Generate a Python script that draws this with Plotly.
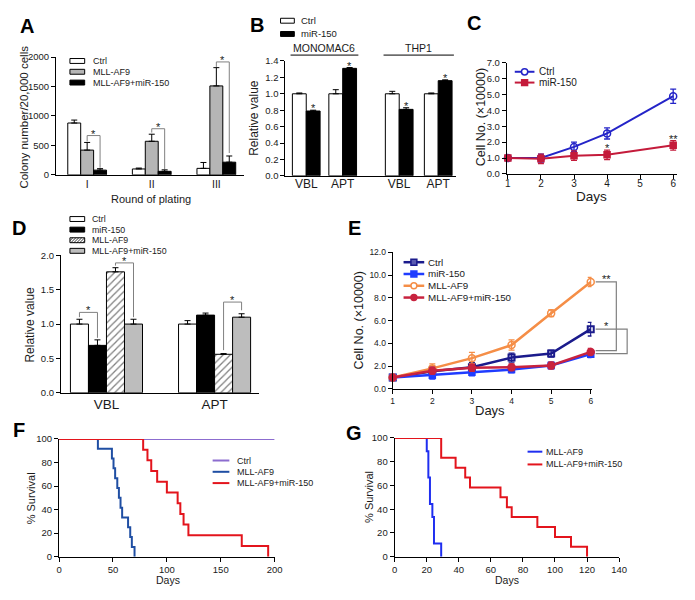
import plotly.graph_objects as go

W, H = 695, 600
FONT = "Liberation Sans, Arial, Helvetica, sans-serif"
INK = "#1a1a1a"
BRK = "#808080"

# ---------------- data ----------------
# A: colony replating
a_rounds = ["I", "II", "III"]
a_ctrl = [880, 100, 110]
a_ctrl_err = [50, 15, 100]
a_mll = [420, 570, 1510]
a_mll_err = [130, 120, 310]
a_combo = [80, 60, 215]
a_combo_err = [25, 25, 105]
# significance brackets A: (round index, top, left end, right end)
a_sig = [(0, 667, 567, 120), (1, 783, 717, 100), (2, 1917, 1833, 370)]

# B: MONOMAC6 / THP1
b_ticklabels = ["VBL", "APT", "VBL", "APT"]
b_cells = ["MONOMAC6", "THP1"]
b_ctrl = [1.00, 1.00, 1.00, 1.00]
b_ctrl_err = [0.01, 0.05, 0.03, 0.01]
b_mir = [0.79, 1.31, 0.81, 1.16]
b_mir_err = [0.01, 0.01, 0.02, 0.01]

# C: growth curve
c_days = [1, 2, 3, 4, 6]
c_ctrl = [1.0, 1.0, 1.7, 2.55, 4.9]
c_ctrl_err = [0.05, 0.25, 0.3, 0.35, 0.45]
c_mir = [1.0, 0.95, 1.15, 1.2, 1.8]
c_mir_err = [0.05, 0.3, 0.3, 0.3, 0.3]
c_stars = [(4, "*"), (6, "**")]

# D: VBL / APT
d_assays = ["VBL", "APT"]
d_ctrl = [1.00, 1.00]
d_ctrl_err = [0.07, 0.05]
d_mir = [0.69, 1.13]
d_mir_err = [0.08, 0.03]
d_mll = [1.76, 0.56]
d_mll_err = [0.06, 0.01]
d_combo = [1.00, 1.10]
d_combo_err = [0.07, 0.05]
# (group, bar i, bar j, top, end i, end j)
d_sig = [(0, 0, 1, 1.17, 1.10, 0.80), (0, 2, 3, 1.89, 1.85, 1.10), (1, 2, 3, 1.32, 0.62, 1.20)]

# E: growth curve 4 groups
e_days = [1, 2, 3, 4, 5, 6]
e_ctrl = [1.0, 1.55, 1.9, 2.75, 3.1, 5.25]
e_ctrl_err = [0.05, 0.35, 0.4, 0.4, 0.3, 0.6]
e_mir = [1.0, 1.2, 1.45, 1.7, 2.05, 3.05]
e_mir_err = [0.05, 0.35, 0.3, 0.3, 0.3, 0.3]
e_mll = [1.0, 1.8, 2.7, 3.85, 6.65, 9.4]
e_mll_err = [0.05, 0.4, 0.5, 0.45, 0.3, 0.4]
e_combo = [1.0, 1.6, 1.85, 1.9, 2.05, 3.25]
e_combo_err = [0.05, 0.3, 0.3, 0.3, 0.3, 0.3]
# (label, top value, bottom value, bracket reach in px)
e_sig = [("**", 9.4, 3.37, 26), ("*", 5.25, 3.1, 37)]

# F / G: survival (days of death)
f_ctrl_followup = 200
f_mll_deaths = [36, 49, 50.5, 52, 54, 55.5, 57, 58.5, 64, 66, 67.5, 70]
f_combo_deaths = [78, 82, 85.5, 91, 100, 110, 112.5, 115.5, 120, 169.5, 194]
g_mll_deaths = [20, 21, 21, 22, 22, 23.5, 24.5, 24.5, 29]
g_combo_deaths = [29, 29, 38, 44, 47, 66, 70, 73, 89, 100, 110, 120]

# ---------------- geometry (pixels) ----------------
GEO = {
    "A": ((54, 245), (52, 172), (-0.48, 2.43), (0, 2000)),
    "B": ((287, 460), (56, 173), (-0.57, 4.1), (0, 1.4)),
    "C": ((512, 685), (58, 171), (0.97, 6.12), (0, 7)),
    "D": ((59, 260), (254, 394), (-0.42, 1.41), (0, 2)),
    "E": ((396, 598), (251, 390), (1, 6.02), (0, 12)),
    "F": ((57, 276), (441, 561), (0, 200), (0, 100)),
    "G": ((398, 626), (440, 561), (0, 140), (0, 100)),
}
IDX = {k: i + 1 for i, k in enumerate("ABCDEFG")}


def ax(k):
    i = IDX[k]
    return ("x" if i == 1 else f"x{i}"), ("y" if i == 1 else f"y{i}")


def xpx(k, v):
    (x0, x1), _, (r0, r1), _ = GEO[k]
    return x0 + (v - r0) / (r1 - r0) * (x1 - x0)


def ypx(k, v):
    _, (yt, yb), _, (r0, r1) = GEO[k]
    return yb - (v - r0) / (r1 - r0) * (yb - yt)


def PX(p):
    return p / W


def PY(p):
    return 1 - p / H


fig = go.Figure()
shapes = []
annos = []


def text(x, y, s, size, color=INK, angle=0, xanchor="center", bold=False):
    annos.append(dict(x=PX(x), y=PY(y), xref="paper", yref="paper", text=(f"<b>{s}</b>" if bold else s),
                      showarrow=False, textangle=angle, xanchor=xanchor, yanchor="middle",
                      font=dict(family=FONT, size=size, color=color)))


def seg_path(points, color=BRK, width=1):
    d = "M " + " L ".join(f"{PX(x):.5f},{PY(y):.5f}" for x, y in points)
    shapes.append(dict(type="path", path=d, xref="paper", yref="paper", line=dict(color=color, width=width)))


def star(x, y, s, size=11):
    text(x, y + 3, s, size)


def bar(k, xs, ys, err, off, w, fill, pattern=None):
    xa, ya = ax(k)
    marker = dict(color=fill, line=dict(color="black", width=1))
    if pattern:
        marker["pattern"] = pattern
    fig.add_trace(go.Bar(x=xs, y=ys, width=w, offset=off, marker=marker, xaxis=xa, yaxis=ya, showlegend=False,
                         error_y=dict(type="data", array=err, arrayminus=[0] * len(err), symmetric=False,
                                      color="black", thickness=1, width=3)))


def line(k, xs, ys, err, color, symbol, msize, lw=2, mline=1.5):
    xa, ya = ax(k)
    mk = dict(symbol=symbol, size=msize, color=color, line=dict(color=color, width=mline))
    fig.add_trace(go.Scatter(x=xs, y=ys, mode="lines+markers", line=dict(color=color, width=lw), marker=mk,
                             xaxis=xa, yaxis=ya, showlegend=False, cliponaxis=False,
                             error_y=dict(type="data", array=err, color=color, thickness=1.3, width=3)))


def km(deaths):
    n = len(deaths)
    xs, ys = [0], [100.0]
    alive = n
    for t in sorted(deaths):
        alive -= 1
        xs.append(t)
        ys.append(100.0 * alive / n)
    return xs, ys


def surv(k, xs, ys, color, lw=2):
    xa, ya = ax(k)
    fig.add_trace(go.Scatter(x=xs, y=ys, mode="lines", line=dict(color=color, width=lw, shape="hv"),
                             xaxis=xa, yaxis=ya, showlegend=False, cliponaxis=False))


# legend helpers
def leg_box(x0, x1, yc, fill, h=5, hatch=False):
    shapes.append(dict(type="rect", xref="paper", yref="paper", x0=PX(x0), x1=PX(x1), y0=PY(yc + h / 2),
                       y1=PY(yc - h / 2), fillcolor=fill, line=dict(color="black", width=1)))
    if hatch:
        pts = []
        xx = x0 - h
        while xx < x1:
            a = max(xx, x0)
            b = min(xx + h, x1)
            pts.append(f"M {PX(a):.5f},{PY(yc + h / 2 - (a - xx)):.5f} L {PX(b):.5f},{PY(yc + h / 2 - (b - xx)):.5f}")
            xx += 3
        shapes.append(dict(type="path", path=" ".join(pts), xref="paper", yref="paper",
                           line=dict(color="black", width=0.8)))


def leg_line(x0, x1, yc, color, lw=2, marker=None, ms=3, mfill=None):
    shapes.append(dict(type="line", xref="paper", yref="paper", x0=PX(x0), x1=PX(x1), y0=PY(yc), y1=PY(yc),
                       line=dict(color=color, width=lw)))
    if marker:
        cx = (x0 + x1) / 2
        shapes.append(dict(type=marker, xref="paper", yref="paper", x0=PX(cx - ms), x1=PX(cx + ms),
                           y0=PY(yc + ms), y1=PY(yc - ms), fillcolor=mfill or color,
                           line=dict(color=color, width=1.5)))


# ---------------- Panel A ----------------
A_W = 0.2
a_x = list(range(len(a_rounds)))
bar("A", a_x, a_ctrl, a_ctrl_err, -0.3, A_W, "white")
bar("A", a_x, a_mll, a_mll_err, -0.1, A_W, "#b5b5b5")
bar("A", a_x, a_combo, a_combo_err, 0.1, A_W, "black")
for g, top, le, re in a_sig:
    xl, xr = xpx("A", g), xpx("A", g + 0.2)
    seg_path([(xl, ypx("A", le)), (xl, ypx("A", top)), (xr, ypx("A", top)), (xr, ypx("A", re))])
    star((xl + xr) / 2, ypx("A", top) - 5, "*")
for i, (lab, fill) in enumerate([("Ctrl", "white"), ("MLL-AF9", "#b5b5b5"), ("MLL-AF9+miR-150", "black")]):
    yc = 56 + i * 11
    leg_box(68, 83, yc, fill)
    text(89, yc, lab, 9, xanchor="left")
text(21, 113, "Colony number/20,000 cells", 11.5, angle=-90)
text(150, 197, "Round of plating", 11)

# ---------------- Panel B ----------------
B_W = 0.38
b_pos = [0, 1, 2.55, 3.62]
bar("B", b_pos, b_ctrl, b_ctrl_err, -B_W, B_W, "white")
bar("B", b_pos, b_mir, b_mir_err, 0, B_W, "black")
for i in range(len(b_pos)):
    star(xpx("B", b_pos[i] + B_W / 2), ypx("B", b_mir[i] + b_mir_err[i]) - 5, "*")
for j, name in enumerate(b_cells):
    xa_ = xpx("B", b_pos[2 * j] - B_W - 0.05)
    xb_ = xpx("B", b_pos[2 * j + 1] + B_W + 0.05)
    shapes.append(dict(type="line", xref="paper", yref="paper", x0=PX(xa_), x1=PX(xb_), y0=PY(50), y1=PY(50),
                       line=dict(color="black", width=1)))
    text((xa_ + xb_) / 2, 42.5, name, 10.5)
leg_box(282, 296, 15, "white")
leg_box(282, 296, 28.5, "black")
text(301, 15, "Ctrl", 9.5, xanchor="left")
text(301, 28.5, "miR-150", 9.5, xanchor="left")
text(255, 114, "Relative value", 12, angle=-90)

# ---------------- Panel C ----------------
C_BLUE, C_RED = "#2424c8", "#c41b3b"
line("C", c_days, c_ctrl, c_ctrl_err, C_BLUE, "circle-open", 7)
line("C", c_days, c_mir, c_mir_err, C_RED, "square", 6)
for d, s in c_stars:
    i = c_days.index(d)
    star(xpx("C", d), ypx("C", c_mir[i] + c_mir_err[i]) - 5, s)
leg_line(520, 540, 67, C_BLUE, marker="circle", ms=3.2, mfill="white")
leg_line(520, 540, 78, C_RED, marker="rect", ms=3)
text(543, 67, "Ctrl", 10, xanchor="left")
text(543, 78, "miR-150", 10, xanchor="left")
text(486, 113, "Cell No. (×10000)", 12.5, angle=-90)
text(598, 194, "Days", 13.5)

# ---------------- Panel D ----------------
D_W = 0.1667
D_OFF = [-0.3333, -0.1667, 0.0, 0.1667]
d_x = list(range(len(d_assays)))
D_GRAY = "#bdbdbd"
bar("D", d_x, d_ctrl, d_ctrl_err, D_OFF[0], D_W, "white")
bar("D", d_x, d_mir, d_mir_err, D_OFF[1], D_W, "black")
bar("D", d_x, d_mll, d_mll_err, D_OFF[2], D_W, "white",
    pattern=dict(shape="/", fgcolor="black", bgcolor="white", size=5, solidity=0.25))
bar("D", d_x, d_combo, d_combo_err, D_OFF[3], D_W, D_GRAY)
for g, bi, bj, top, ei, ej in d_sig:
    xl = xpx("D", g + D_OFF[bi] + D_W / 2)
    xr = xpx("D", g + D_OFF[bj] + D_W / 2)
    seg_path([(xl, ypx("D", ei)), (xl, ypx("D", top)), (xr, ypx("D", top)), (xr, ypx("D", ej))])
    star((xl + xr) / 2, ypx("D", top) - 5, "*")
for i, (lab, fill, hat) in enumerate([("Ctrl", "white", False), ("miR-150", "black", False),
                                      ("MLL-AF9", "white", True), ("MLL-AF9+miR-150", D_GRAY, False)]):
    yc = 217 + i * 10.8
    leg_box(68, 83, yc, fill, hatch=hat)
    text(88, yc, lab, 8.8, xanchor="left")
text(27, 325, "Relative value", 12, angle=-90)

# ---------------- Panel E ----------------
E_NAVY, E_BLUE, E_ORANGE, E_RED = "#1b1b8c", "#1f3cff", "#f58e47", "#c8233f"
line("E", e_days, e_ctrl, e_ctrl_err, E_NAVY, "square-open", 6, lw=2.5, mline=2)
line("E", e_days, e_mir, e_mir_err, E_BLUE, "square", 6, lw=2.5)
line("E", e_days, e_mll, e_mll_err, E_ORANGE, "circle-open", 7, lw=2.5, mline=1.5)
line("E", e_days, e_combo, e_combo_err, E_RED, "circle", 7, lw=2.5)
x6 = xpx("E", e_days[-1])
for s, top, bot, reach in e_sig:
    xr = x6 + reach
    seg_path([(x6 + 5, ypx("E", top)), (xr, ypx("E", top)), (xr, ypx("E", bot)), (x6 + 5, ypx("E", bot))],
             width=1.2)
    star(x6 + 16, ypx("E", top) - 6, s)
for i, (lab, col, mk, mf) in enumerate([("Ctrl", E_NAVY, "rect", "#5a5ab0"), ("miR-150", E_BLUE, "rect", None),
                                        ("MLL-AF9", E_ORANGE, "circle", "white"),
                                        ("MLL-AF9+miR-150", E_RED, "circle", None)]):
    yc = 261 + i * 12
    leg_line(407, 428, yc, col, lw=2.5, marker=mk, ms=3, mfill=mf)
    text(430, yc, lab, 9.8, xanchor="left")
text(362, 320, "Cell No. (×10000)", 12.5, angle=-90)
text(495, 412, "Days", 13)

# ---------------- Panel F ----------------
F_PURPLE, F_NAVY, F_RED = "#8c6ccf", "#1f4ea3", "#e3141c"
surv("F", [0, f_ctrl_followup], [100, 100], F_PURPLE)
fx, fy = km(f_mll_deaths)
surv("F", fx, fy, F_NAVY)
fx, fy = km(f_combo_deaths)
surv("F", fx, fy, F_RED)
for i, (lab, col) in enumerate([("Ctrl", F_PURPLE), ("MLL-AF9", F_NAVY), ("MLL-AF9+miR-150", F_RED)]):
    yc = 463 + i * 11.5
    leg_line(213, 230, yc, col, lw=2)
    text(236, yc, lab, 9, xanchor="left")
text(28, 502, "% Survival", 11, angle=-90)
text(168, 585, "Days", 10.5)

# ---------------- Panel G ----------------
G_BLUE, G_RED = "#1f2ef0", "#e3141c"
gx, gy = km(g_mll_deaths)
surv("G", gx, gy, G_BLUE)
gx, gy = km(g_combo_deaths)
surv("G", gx, gy, G_RED)
for i, (lab, col) in enumerate([("MLL-AF9", G_BLUE), ("MLL-AF9+miR-150", G_RED)]):
    yc = 454 + i * 13
    leg_line(533, 548, yc, col, lw=2)
    text(550, yc, lab, 9, xanchor="left")
text(372, 500, "% Survival", 11, angle=-90)
text(512, 585, "Days", 10.5)

# panel letters
for lab, (x, y) in {"A": (24, 20), "B": (258, 19), "C": (479, 17), "D": (16, 226), "E": (357, 226),
                    "F": (16, 432), "G": (357, 435)}.items():
    text(x, y, lab, 20, color="black", bold=True)

# ---------------- axes ----------------
def tf(size):
    return dict(family=FONT, size=size, color=INK)


base = dict(showline=True, linecolor="black", linewidth=1.2, showgrid=False, zeroline=False,
            ticks="outside", ticklen=4, tickwidth=1, tickcolor="black", fixedrange=True, tickfont=tf(9.5))
tick_cfg = {
    "A": (dict(tickmode="array", tickvals=a_x, ticktext=a_rounds, ticks="", tickfont=tf(10.5),
               ticklabelstandoff=-1),
          dict(tickmode="linear", tick0=0, dtick=500, tickfont=tf(9.5))),
    "B": (dict(tickmode="array", tickvals=b_pos, ticktext=b_ticklabels, ticks="", tickfont=tf(12),
               ticklabelstandoff=-3),
          dict(tickmode="linear", tick0=0, dtick=0.2, tickformat=".1f", tickfont=tf(9.5))),
    "C": (dict(tickmode="linear", tick0=1, dtick=1, tickfont=tf(10), ticklabelstandoff=-4),
          dict(tickmode="linear", tick0=0, dtick=1, tickformat=".1f", tickfont=tf(9.5))),
    "D": (dict(tickmode="array", tickvals=d_x, ticktext=d_assays, ticks="", tickfont=tf(13.5),
               ticklabelstandoff=-1),
          dict(tickmode="linear", tick0=0, dtick=0.5, tickformat=".1f", tickfont=tf(9.5))),
    "E": (dict(tickmode="linear", tick0=1, dtick=1, tickfont=tf(8.5)),
          dict(tickmode="linear", tick0=0, dtick=2, tickformat=".1f", tickfont=tf(8.5))),
    "F": (dict(tickmode="linear", tick0=0, dtick=50, tickfont=tf(9.5)),
          dict(tickmode="linear", tick0=0, dtick=20, tickfont=tf(9.5))),
    "G": (dict(tickmode="linear", tick0=0, dtick=20, tickfont=tf(9.5)),
          dict(tickmode="linear", tick0=0, dtick=20, tickfont=tf(9.5))),
}
layout = {}
for k, i in IDX.items():
    (x0, x1), (yt, yb), xr, yr = GEO[k]
    xa, ya = ax(k)
    xcfg = dict(base, domain=[x0 / W, x1 / W], range=list(xr), anchor=ya)
    xcfg.update(tick_cfg[k][0])
    ycfg = dict(base, domain=[1 - yb / H, 1 - yt / H], range=list(yr), anchor=xa)
    ycfg.update(tick_cfg[k][1])
    layout["xaxis" if i == 1 else f"xaxis{i}"] = xcfg
    layout["yaxis" if i == 1 else f"yaxis{i}"] = ycfg

fig.update_layout(**layout)
fig.update_layout(width=W, height=H, margin=dict(l=0, r=0, t=0, b=0), paper_bgcolor="white",
                  plot_bgcolor="white", barmode="overlay", showlegend=False, shapes=shapes, annotations=annos,
                  font=dict(family=FONT, color=INK))
fig.write_html("out.html", config={"displayModeBar": False},
               post_script="document.body.style.margin='0px';")
